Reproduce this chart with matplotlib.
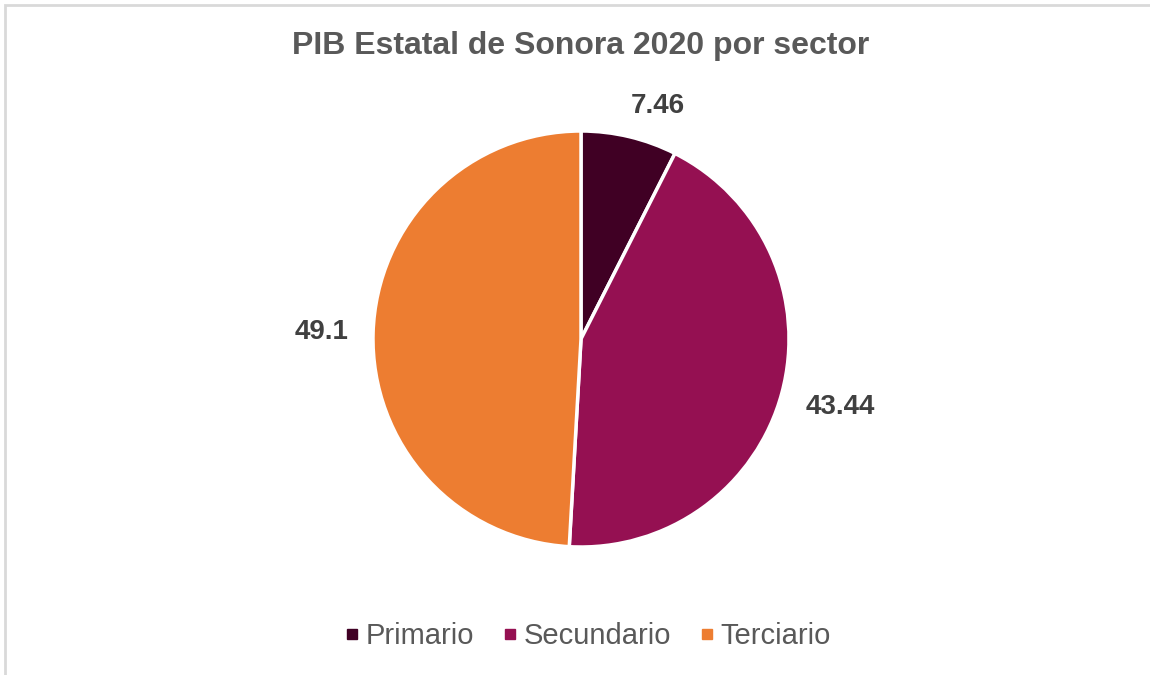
import matplotlib.pyplot as plt
from matplotlib.lines import Line2D
from matplotlib.patches import Rectangle

plt.rcParams['font.family'] = ['Liberation Sans', 'DejaVu Sans']

# sectores del PIB
sectores = ['Primario', 'Secundario', 'Terciario']
valores = [7.46, 43.44, 49.1]
etiquetas = ['7.46', '43.44', '49.1']
colores = ['#400024', '#951052', '#ED7D31']

W, H = 1150, 675
fig = plt.figure(figsize=(W / 100, H / 100), dpi=100)

# borde gris del grafico
fig.patches.append(Rectangle((5 / W, -0.02), 1.1, (H - 5) / H + 0.02, transform=fig.transFigure,
                             fill=False, edgecolor='#D9D9D9', linewidth=2))

ax = fig.add_axes([0, 0, 1, 1])

wedges, texts = ax.pie(valores, labels=etiquetas, colors=colores, startangle=90, counterclock=False,
                       center=(581, H - 339), radius=208, labeldistance=1.25,
                       wedgeprops=dict(edgecolor='white', linewidth=2.5),
                       textprops=dict(fontsize=20, fontweight='bold', color='#404040'))
for t in texts:
    t.set_ha('center')
    t.set_va('center')
texts[0].set_position((658, H - 106))
texts[1].set_position((840, H - 407))
texts[2].set_position((322, H - 332))

ax.set_xlim(0, W)
ax.set_ylim(0, H)
ax.set_aspect('equal')
ax.axis('off')

fig.text(581 / W, 1 - 46 / H, 'PIB Estatal de Sonora 2020 por sector', ha='center', va='center',
         fontsize=23, fontweight='bold', color='#595959')

handles = [Line2D([], [], marker='s', linestyle='', markersize=7, color=c) for c in colores]
fig.legend(handles, sectores, loc='center', bbox_to_anchor=(587 / W, 1 - 636 / H), ncol=3,
           frameon=False, fontsize=21, labelcolor='#595959', handletextpad=0.15,
           columnspacing=0.95, handlelength=0.6)

plt.savefig('out.png', dpi=100)
